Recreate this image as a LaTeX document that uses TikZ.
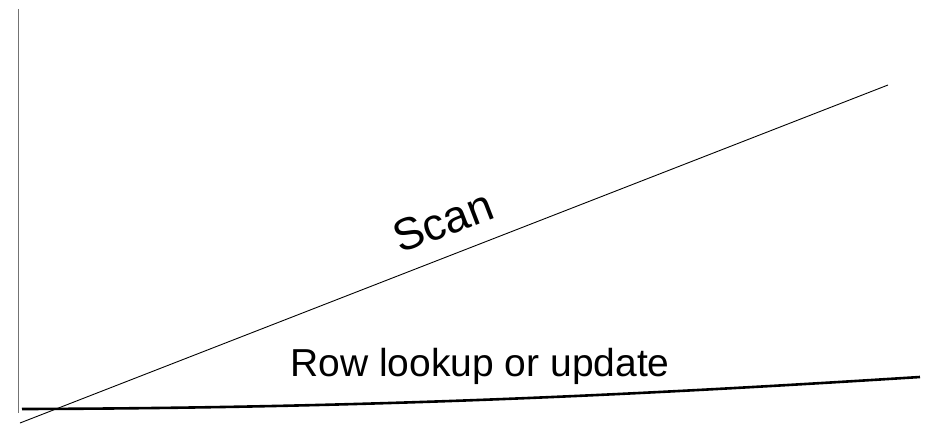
\documentclass[tikz,border=0pt]{standalone}
\usepackage{fontspec}
\setmainfont{Liberation Sans}
\usetikzlibrary{positioning}
\tikzset{
    %Define style for the axis
    axis/.style={
           draw=black!55,
           line width=1.6pt},
    %Define style for the curves
    scanline/.style={
           draw=black,
           line width=0.9pt},
    lookupline/.style={
           draw=black,
           line width=2.6pt},
    % Define style for labels
    curvelabel/.style={
           font=\fontsize{39}{44}\selectfont,
           inner sep=0pt}
}
\begin{document}
\begin{tikzpicture}[x=1pt, y=1pt]
 \useasboundingbox (0,0) rectangle (931,424);
 %points
    \coordinate (axistop) at (18.5,415);
    \coordinate (axisbot) at (18.5,11);
    \coordinate (scanstart) at (20,1);
    \coordinate (scanend) at (888,339);
    \coordinate (rowstart) at (22,15);
    \coordinate (rowend) at (920,47);
 %lines
    \draw[axis] (axistop) -- (axisbot);
    \draw[scanline] (scanstart) -- (scanend);
    \draw[lookupline] (rowstart) .. controls (380,16) and (650,30) .. (rowend);
 %labels
    \node[curvelabel, font=\fontsize{45}{50}\selectfont, rotate=21] (scan) at (443,203) {Scan};
    \node[curvelabel, anchor=base] (row) at (480,48) {Row lookup or update};
\end{tikzpicture}
\end{document}
